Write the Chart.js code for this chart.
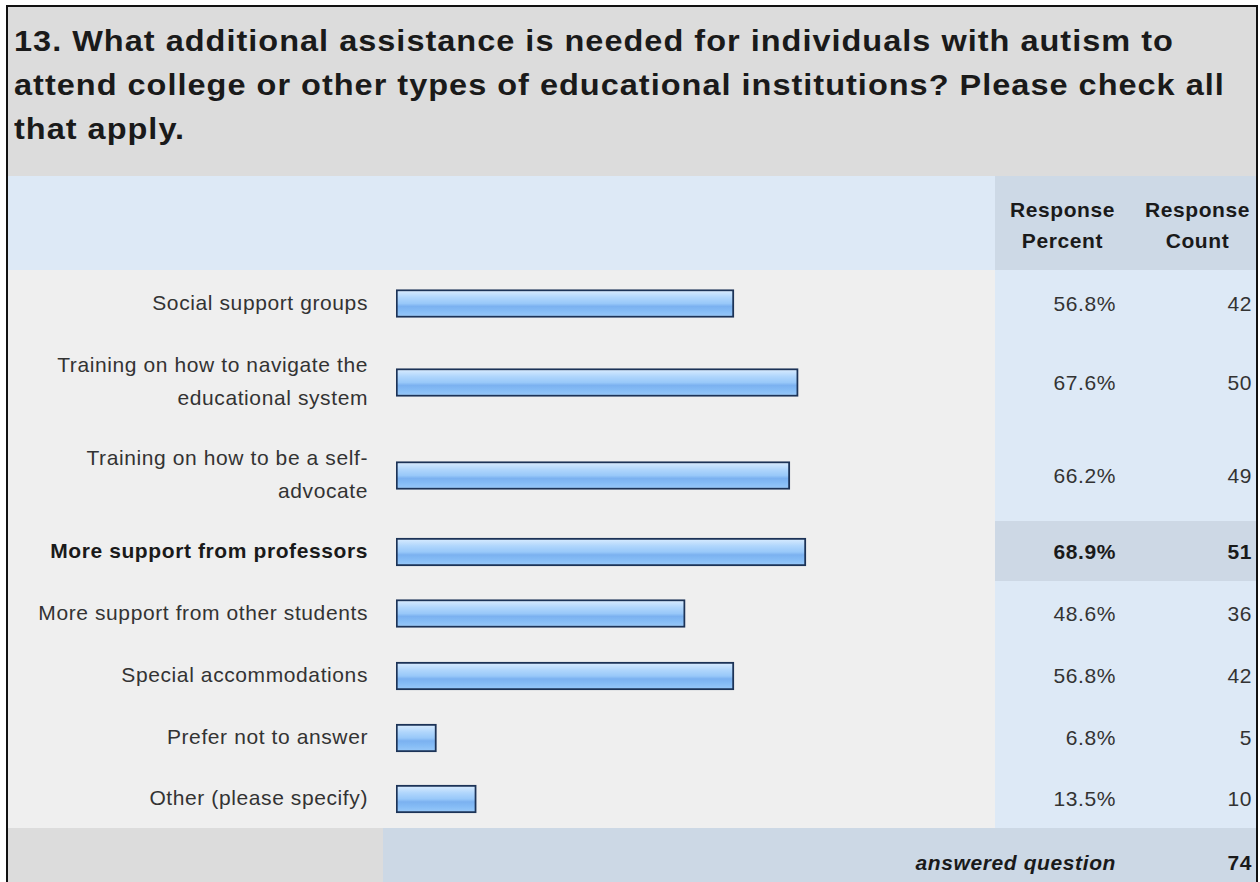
<!DOCTYPE html>
<html>
<head>
<meta charset="utf-8">
<script src="https://cdn.jsdelivr.net/npm/chart.js@4"></script>
<style>
  html, body { margin: 0; background: #fff; }
  body { font-family: "Liberation Sans", Arial, sans-serif; color: #333; }
  #frame {
    position: absolute; left: 6px; top: 5px; width: 1248px; height: 900px;
    border: 2px solid #111; border-bottom: none;
  }
  #title {
    background: #dcdcdc; color: #1a1a1a; font-weight: bold; font-size: 29px; letter-spacing: 0.9px;
    line-height: 44px; padding: 12px 0 25px 6px; white-space: nowrap; height: 132px; overflow: hidden;
  }
  #title div { transform: scaleX(1.12); transform-origin: 0 0; }
  .grid { display: grid; grid-template-columns: 375px 612px 135px 126px; }
  .cell { display: flex; align-items: center; box-sizing: border-box; font-size: 21px; letter-spacing: 0.6px; }
  .head { background: #cdd9e6; font-weight: bold; color: #1a1a1a; line-height: 31px; justify-content: center; text-align: center; padding-top: 3px; letter-spacing: 0.6px; }
  .label { background: #efefef; justify-content: flex-end; text-align: right; padding: 0 15px 1px 16px; line-height: 33px; }
  .bar { background: #efefef; position: relative; }
  .num { background: #dde9f6; justify-content: flex-end; padding-top: 2px; }
  .pct { padding-right: 14px; }
  .cnt { padding-right: 4px; }
  .hi .num { background: #cdd8e5; }
  .hi .cell { font-weight: bold; color: #1a1a1a; }
  .foot .cell { background: #ccd8e5; font-weight: bold; color: #1a1a1a; }
</style>
</head>
<body>
<div id="frame">
  <div id="title">
    <div>13. What additional assistance is needed for individuals with autism to</div>
    <div>attend college or other types of educational institutions? Please check all</div>
    <div>that apply.</div>
  </div>
  <div class="grid" style="height:94px">
    <div class="cell" style="grid-column: span 2; background:#dde9f6"></div>
    <div class="cell head" style="padding-left:14px;padding-right:14px">Response<br>Percent</div>
    <div class="cell head" style="padding-left:13px;padding-right:4px">Response<br>Count</div>
  </div>
  <div id="rows"></div>
  <div class="grid foot" style="height:70px">
    <div class="cell" style="background:#dcdcdc"></div>
    <div class="cell" style="grid-column: span 2; justify-content:flex-end; padding-right:14px; font-style:italic">answered question</div>
    <div class="cell" id="answered" style="justify-content:flex-end; padding-right:4px"></div>
  </div>
</div>

<script>
const choices = [
  "Social support groups",
  "Training on how to navigate the educational system",
  "Training on how to be a self-advocate",
  "More support from professors",
  "More support from other students",
  "Special accommodations",
  "Prefer not to answer",
  "Other (please specify)"
];
const percents = [56.8, 67.6, 66.2, 68.9, 48.6, 56.8, 6.8, 13.5];
const counts = [42, 50, 49, 51, 36, 42, 5, 10];
const answered = 74;

// table row heights, two-line labels get the taller rows
const rowHeights = [65, 93, 93, 60, 63, 62, 62, 60];

const rows = document.getElementById("rows");
const maxPct = Math.max(...percents);

// glossy blue fill, shaded top to bottom across the bar
function barFill(ctx) {
  const chart = ctx.chart;
  const area = chart.chartArea;
  if (!area) return "#9fcaf9";
  const mid = (area.top + area.bottom) / 2;
  const g = chart.ctx.createLinearGradient(0, mid - 12, 0, mid + 12);
  g.addColorStop(0, "#d2e8fe");
  g.addColorStop(0.25, "#b0d6fc");
  g.addColorStop(0.5, "#98c8f9");
  g.addColorStop(0.62, "#7bb1f0");
  g.addColorStop(0.8, "#84bbf5");
  g.addColorStop(1, "#94c6f8");
  return g;
}

function drawBar(holder, label, value) {
  const canvas = document.createElement("canvas");
  holder.appendChild(canvas);
  return new Chart(canvas, {
    type: "bar",
    data: {
      labels: [label],
      datasets: [{
        data: [value],
        backgroundColor: barFill,
        borderColor: "#1c3357",
        borderWidth: 2,
        borderSkipped: false,
        barThickness: 28
      }]
    },
    options: {
      indexAxis: "y",
      responsive: true,
      maintainAspectRatio: false,
      animation: false,
      events: [],
      layout: { padding: { left: 13, right: 4, top: 2 } },
      scales: {
        x: { display: false, min: 0, max: 100 },
        y: { display: false }
      },
      plugins: {
        legend: { display: false },
        tooltip: { enabled: false }
      }
    }
  });
}

choices.forEach((choice, i) => {
  const row = document.createElement("div");
  row.className = "grid" + (percents[i] === maxPct ? " hi" : "");
  row.style.height = rowHeights[i] + "px";

  const label = document.createElement("div");
  label.className = "cell label";
  label.textContent = choice;

  const bar = document.createElement("div");
  bar.className = "cell bar";
  const holder = document.createElement("div");
  holder.style.cssText = "position:absolute;left:0;top:0;width:612px;height:" + rowHeights[i] + "px";
  bar.appendChild(holder);

  const pct = document.createElement("div");
  pct.className = "cell num pct";
  pct.textContent = percents[i].toFixed(1) + "%";

  const cnt = document.createElement("div");
  cnt.className = "cell num cnt";
  cnt.textContent = counts[i];

  row.append(label, bar, pct, cnt);
  rows.appendChild(row);
  drawBar(holder, choice, percents[i]);
});

document.getElementById("answered").textContent = answered;
</script>
</body>
</html>
